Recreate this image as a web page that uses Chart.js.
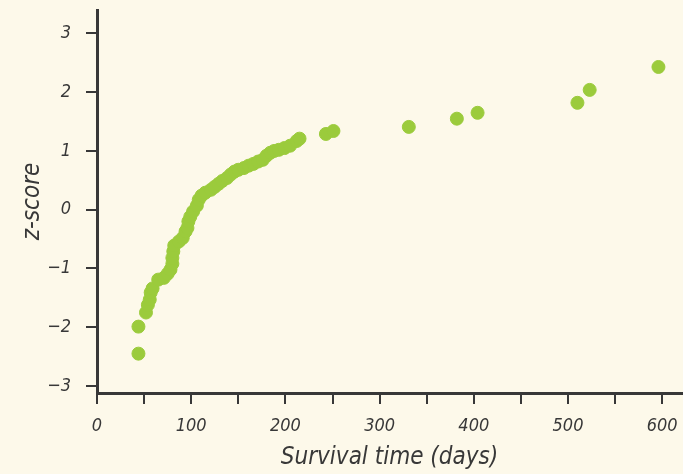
<!DOCTYPE html>
<html>
<head>
<meta charset="utf-8">
<script src="https://cdn.jsdelivr.net/npm/chart.js@4/dist/chart.umd.min.js"></script>
<style>
  html, body { margin: 0; padding: 0; background: #fdf9ea; }
  #myChart { display: block; background: #fdf9ea; }
</style>
</head>
<body>
<canvas id="myChart" width="683" height="474"></canvas>
<script>
  const survivalDays = [
    44, 44, 52, 54, 56, 57, 59, 65, 71, 75,
    78, 80, 80, 81, 82, 87, 91, 94, 96, 97,
    99, 102, 106, 108, 111, 115, 121, 125, 129, 133,
    138, 142, 146, 150, 156, 161, 166, 171, 176, 180,
    184, 188, 193, 199, 205, 212, 215, 243, 251, 331,
    382, 404, 510, 523, 596
  ];
  const zScores = [
    -2.45, -1.99, -1.75, -1.62, -1.53, -1.41, -1.34, -1.19, -1.16, -1.09,
    -1.02, -0.92, -0.82, -0.71, -0.61, -0.54, -0.48, -0.37, -0.31, -0.20,
    -0.12, -0.03, 0.07, 0.17, 0.24, 0.29, 0.34, 0.39, 0.44, 0.49,
    0.54, 0.60, 0.65, 0.68, 0.71, 0.75, 0.78, 0.82, 0.85, 0.92,
    0.97, 1.00, 1.02, 1.05, 1.09, 1.17, 1.21, 1.29, 1.34, 1.41,
    1.55, 1.65, 1.82, 2.04, 2.43
  ];
  const xTickValues = [0, 50, 100, 150, 200, 250, 300, 350, 400, 450, 500, 550, 600];
  const yTickValues = [-3, -2, -1, 0, 1, 2, 3];

  const inkColor = '#383838';
  const handFont = "'Liberation Sans Narrow', 'DejaVu Sans Condensed', sans-serif";

  const points = survivalDays.map((d, i) => ({ x: d, y: zScores[i] }));

  const data = {
    datasets: [{
      label: 'z-score',
      data: points,
      backgroundColor: 'rgb(155, 203, 60)',
      borderColor: 'rgb(155, 203, 60)',
      borderWidth: 1,
      pointRadius: 6.5,
      pointHoverRadius: 6.5,
    }]
  };

  const config = {
    type: 'scatter',
    data: data,
    options: {
      responsive: false,
      animation: false,
      layout: {
        autoPadding: false,
        padding: { top: 10, right: 1, left: 0, bottom: 0 }
      },
      plugins: {
        legend: { display: false },
        tooltip: { enabled: false }
      },
      scales: {
        x: {
          type: 'linear',
          min: 0,
          max: 621,
          afterBuildTicks: (scale) => {
            scale.ticks = xTickValues.map(v => ({ value: v }));
          },
          afterFit: (scale) => {
            scale.height = 81;
            scale.paddingLeft = 0;
            scale.paddingRight = 0;
          },
          border: { display: true, color: inkColor, width: 3 },
          grid: {
            display: true,
            drawOnChartArea: false,
            drawTicks: true,
            tickLength: 11,
            color: inkColor,
            lineWidth: 2,
          },
          ticks: {
            padding: 12,
            maxRotation: 0,
            autoSkip: false,
            color: inkColor,
            font: { family: handFont, size: 18, style: 'italic' },
            callback: (v) => (v % 100 === 0 ? String(v) : ''),
          },
          title: {
            display: true,
            text: 'Survival time (days)',
            color: inkColor,
            padding: { top: 0, bottom: 2 },
            font: { family: handFont, size: 24, style: 'italic' },
          }
        },
        y: {
          type: 'linear',
          min: -3.12,
          max: 3.4,
          afterBuildTicks: (scale) => {
            scale.ticks = yTickValues.map(v => ({ value: v }));
          },
          afterFit: (scale) => {
            scale.width = 97;
            scale.paddingTop = 0;
            scale.paddingBottom = 0;
          },
          border: { display: true, color: inkColor, width: 3 },
          grid: {
            display: true,
            drawOnChartArea: false,
            drawTicks: true,
            tickLength: 11,
            color: inkColor,
            lineWidth: 2,
          },
          ticks: {
            padding: 15,
            autoSkip: false,
            color: inkColor,
            font: { family: handFont, size: 18, style: 'italic' },
            callback: (v) => (v < 0 ? '\u2212' + Math.abs(v) : String(v)),
          },
          title: {
            display: true,
            text: 'z-score',
            color: inkColor,
            padding: { top: 18, bottom: 0 },
            font: { family: handFont, size: 24, style: 'italic' },
          }
        }
      }
    }
  };

  const myChart = new Chart(
    document.getElementById('myChart'),
    config
  );
</script>
</body>
</html>
